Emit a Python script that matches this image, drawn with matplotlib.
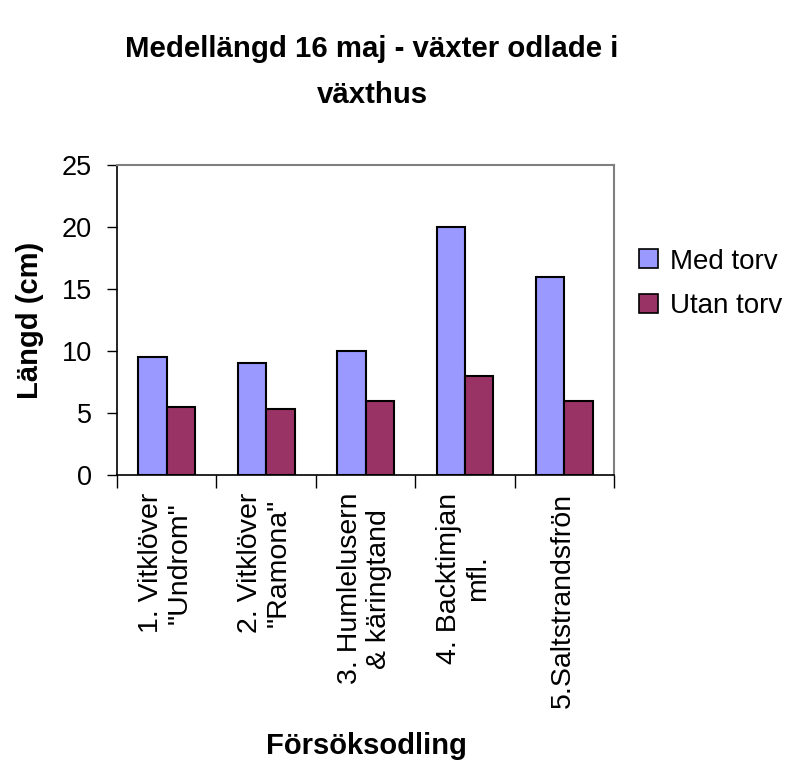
import matplotlib
matplotlib.use("Agg")
import matplotlib.pyplot as plt
import numpy as np
from matplotlib.patches import Patch

plt.rcParams['font.family'] = ['Liberation Sans', 'DejaVu Sans']

categories = ['1. Vitklöver\n"Undrom"', '2. Vitklöver\n"Ramona"',
              '3. Humlelusern\n& käringtand', '4. Backtimjan\nmfl.',
              '5.Saltstrandsfrön']
med_torv = [9.5, 9.0, 10.0, 20.0, 16.0]
utan_torv = [5.5, 5.3, 6.0, 8.0, 6.0]
series_names = ['Med torv', 'Utan torv']
colors = ['#9999FF', '#993366']

fig = plt.figure(figsize=(7.87, 7.67), dpi=100)
ax = fig.add_axes([117/787, 1-475/767, (614-117)/787, (475-165)/767])

x = np.arange(len(categories)) + 0.5
w = 1/3.5
ax.bar(x - w/2, med_torv, w, color=colors[0], edgecolor='black', linewidth=1.5)
ax.bar(x + w/2, utan_torv, w, color=colors[1], edgecolor='black', linewidth=1.5)

ax.set_xlim(0, len(categories))
ax.set_ylim(0, 25)
ax.set_yticks([0, 5, 10, 15, 20, 25])
ax.set_xticks(np.arange(len(categories)+1))
ax.set_xticklabels([])
ax.tick_params(axis='y', labelsize=19.5, length=7, width=1, direction='out', pad=11)
ax.tick_params(axis='x', length=9, width=1, direction='out')

for xi, lab in zip(x, categories):
    ax.text(xi - 0.015, -0.058, lab, transform=ax.get_xaxis_transform(), rotation=90,
            ha='center', va='top', multialignment='center', fontsize=20.5,
            linespacing=1.15)

for s in ['left', 'bottom']:
    ax.spines[s].set_color('black')
    ax.spines[s].set_linewidth(1.2)
for s in ['top', 'right']:
    ax.spines[s].set_color('#808080')
    ax.spines[s].set_linewidth(1.5)

ax.set_ylabel('Längd (cm)', fontsize=21, fontweight='bold', labelpad=13)
fig.text(366/787, 1-746/767, 'Försöksodling', ha='center', va='center',
         fontsize=21, fontweight='bold')
fig.text(372/787, 1-72/767, 'Medellängd 16 maj - växter odlade i\nväxthus',
         ha='center', va='center', fontsize=21.2, fontweight='bold',
         linespacing=1.78)

handles = [Patch(facecolor=c, edgecolor='black', linewidth=1.2) for c in colors]
fig.legend(handles, series_names, loc='center left',
           bbox_to_anchor=(639/787, 1-284/767), frameon=False, fontsize=20,
           handlelength=0.68, handleheight=0.68, handletextpad=0.45,
           labelspacing=0.68, borderpad=0, borderaxespad=0)

fig.savefig('out.png', dpi=100)
